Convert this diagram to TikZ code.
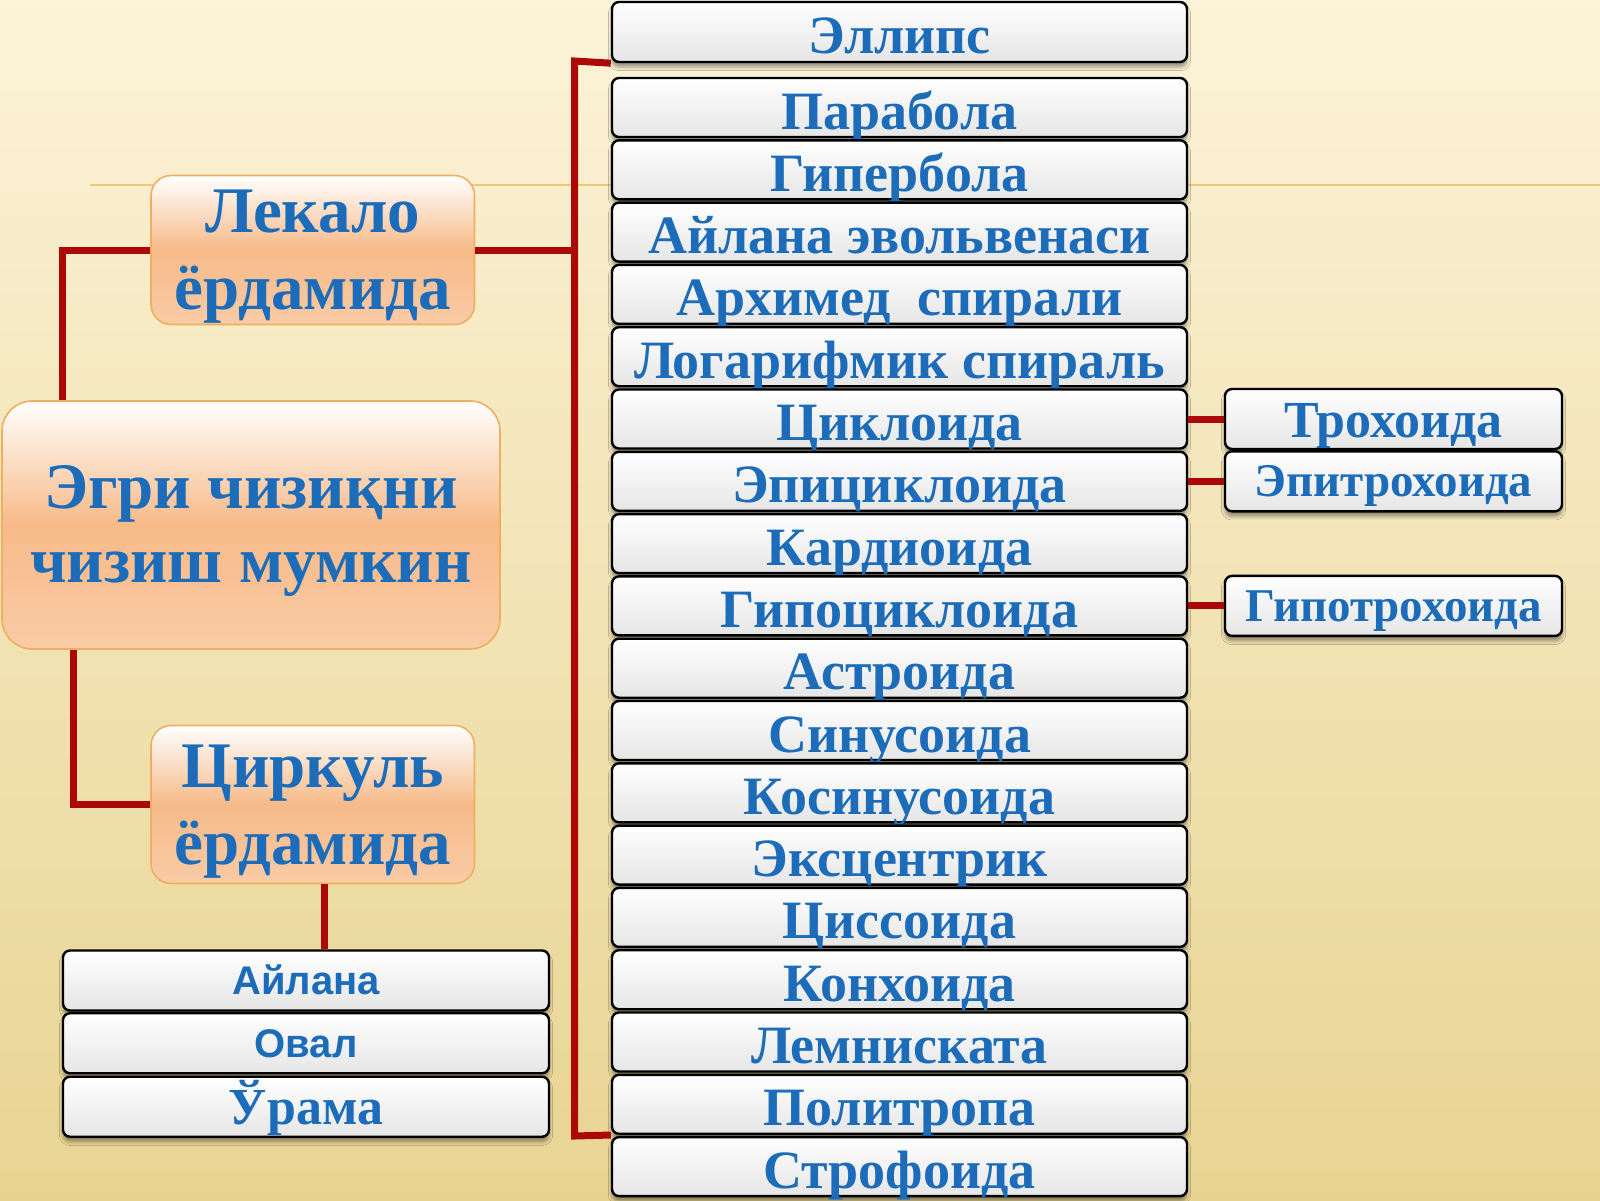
\documentclass[tikz,border=0pt]{standalone}
\usepackage{fontspec}
\setmainfont{Liberation Serif}
\newfontfamily\arialfont{Liberation Sans}
\usetikzlibrary{shadows.blur}

\definecolor{txtblue}{RGB}{28,108,186}
\definecolor{linered}{RGB}{172,8,8}
\definecolor{boxedge}{RGB}{238,176,96}
\definecolor{peach}{RGB}{247,186,136}
\definecolor{bgtop}{RGB}{252,243,216}
\definecolor{bgbot}{RGB}{232,212,146}
\definecolor{deco}{RGB}{240,198,120}

\begin{document}
\begin{tikzpicture}[x=0.5pt, y=-0.5pt,
    curve/.style={draw=black, line width=1.2pt, rounded corners=3.5pt,
        top color=white, bottom color=black!10, text=txtblue,
        font=\bfseries\fontsize{27}{30}\selectfont,
        text height=23pt, text depth=1.5pt, inner sep=0pt,
        minimum width=287.5pt, minimum height=29.5pt,
        blur shadow={shadow xshift=0pt, shadow yshift=-2.5pt}},
    side/.style={curve, minimum width=168.5pt, minimum height=30pt,
        font=\bfseries\fontsize{23.5}{26}\selectfont,
        text height=17pt, text depth=1.4pt},
    round/.style={curve, minimum width=243pt, minimum height=30pt,
        font=\arialfont\bfseries\fontsize{20}{22}\selectfont,
        text height=15.5pt, text depth=1.1pt},
    mainbox/.style={draw=boxedge, line width=0.8pt, rounded corners=15pt,
        top color=white, bottom color=peach!75!white, middle color=peach,
        text=txtblue, align=center, inner sep=0pt,
        font=\bfseries\fontsize{32.5}{37}\selectfont},
    helper/.style={mainbox, minimum width=161.75pt, rounded corners=10pt,
        font=\bfseries\fontsize{32.5}{38.5}\selectfont, text depth=-6pt},
    link/.style={draw=linered, line width=3.5pt}]

    \useasboundingbox (0,0) rectangle (1600,1200);
    \fill[top color=bgtop, bottom color=bgbot] (0,0) rectangle (1600,1200);
    \draw[deco, line width=1pt] (90,185) -- (1600,185);

    % left side
    \node[mainbox, minimum width=249pt, minimum height=124pt, text depth=1pt] (egri) at (251,525) {Эгри чизиқни\\чизиш мумкин};
    \node[helper, minimum height=74.5pt] (lek) at (312.75,250) {Лекало\\ёрдамида};
    \node[helper, minimum height=79pt] (cir) at (312.75,804.5) {Циркуль\\ёрдамида};

    \node[round] (ail) at (306,980.5) {Айлана};
    \node[round] (ova) at (306,1043.25) {Овал};
    \node[round, font=\bfseries\fontsize{26}{28}\selectfont, text height=19pt, text depth=1pt] (ura) at (306,1106.75) {Ўрама};

    % column of curves
    \node[curve, minimum height=30pt] (ell) at (899.5,32) {Эллипс};
    \node[curve] (par) at (899.5,107.5) {Парабола};
    \node[curve] (gip) at (899.5,169.8) {Гипербола};
    \node[curve] (evo) at (899.5,232.1) {Айлана эвольвенаси};
    \node[curve] (arx) at (899.5,294.4) {Архимед\ \ спирали};
    \node[curve] (log) at (899.5,356.7) {Логарифмик спираль};
    \node[curve] (cyc) at (899.5,419.0) {Циклоида};
    \node[curve] (epi) at (899.5,481.3) {Эпициклоида};
    \node[curve] (kar) at (899.5,543.6) {Кардиоида};
    \node[curve] (hyp) at (899.5,605.9) {Гипоциклоида};
    \node[curve] (ast) at (899.5,668.2) {Астроида};
    \node[curve] (sin) at (899.5,730.5) {Синусоида};
    \node[curve] (cos) at (899.5,792.8) {Косинусоида};
    \node[curve] (exc) at (899.5,855.1) {Эксцентрик};
    \node[curve] (cis) at (899.5,917.4) {Циссоида};
    \node[curve] (kon) at (899.5,979.7) {Конхоида};
    \node[curve] (lem) at (899.5,1042.0) {Лемниската};
    \node[curve] (pol) at (899.5,1104.3) {Политропа};
    \node[curve] (str) at (899.5,1166.6) {Строфоида};

    % trochoids
    \node[side, font=\bfseries\fontsize{26}{28}\selectfont, text height=19pt, text depth=1pt] (tro) at (1393.5,419.0) {Трохоида};
    \node[side] (etr) at (1393.5,481.3) {Эпитрохоида};
    \node[side] (gtr) at (1393.5,605.9) {Гипотрохоида};

    % connectors
    \coordinate (top) at (574.5,61);
    \coordinate (bot) at (574.5,1136);
    \draw[link] (ell.south west) -- (top) -- (bot) -- (pol.south west);
    \draw[link] (lek.east) -- (lek.east -| top);
    \draw[link] ([xshift=30.5pt]egri.north west) |- (lek.west);
    \draw[link] ([xshift=36.25pt]egri.south west) |- (cir.west);
    \draw[link] ([xshift=6pt]cir.south) -- ([xshift=6pt]cir.south |- ail.north);
    \draw[link] (cyc.east) -- (tro.west);
    \draw[link] (epi.east) -- (etr.west);
    \draw[link] (hyp.east) -- (gtr.west);
\end{tikzpicture}
\end{document}
